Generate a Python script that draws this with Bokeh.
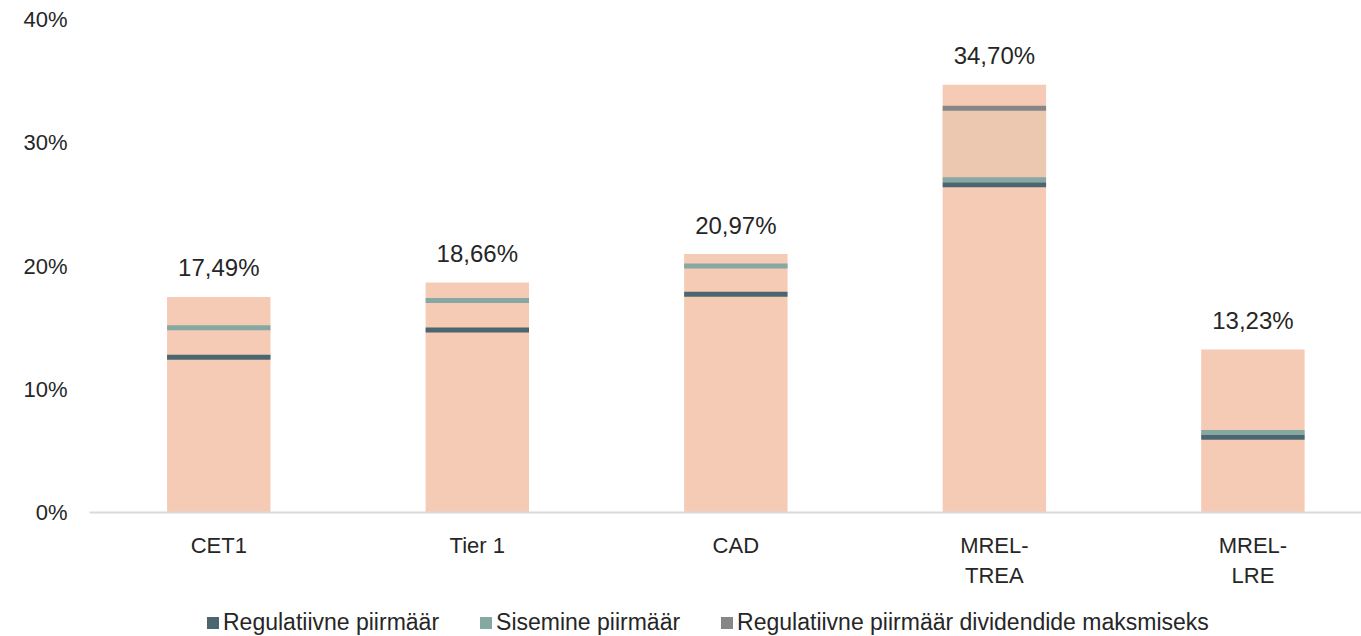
from bokeh.plotting import figure
from bokeh.models import Range1d, FixedTicker, Legend, LegendItem, ColumnDataSource
from bokeh.layouts import column
from bokeh.embed import file_html
from bokeh.resources import INLINE
from bokeh.core.properties import value

categories = ["CET1", "Tier 1", "CAD", "MREL-\nTREA", "MREL-\nLRE"]
capital = [17.49, 18.66, 20.97, 34.70, 13.23]
capital_labels = ["17,49%", "18,66%", "20,97%", "34,70%", "13,23%"]
regulatory = [12.6, 14.8, 17.7, 26.6, 6.1]
internal = [15.0, 17.2, 20.0, 27.0, 6.5]
dividend_idx = [3]
dividend = [32.8]
y_ticks = [0, 10, 20, 30, 40]
legend_labels = ["Regulatiivne piirmäär", "Sisemine piirmäär",
                 "Regulatiivne piirmäär dividendide maksmiseks"]

FONT = "Liberation Sans"
TXT = "#262626"
C_BAR = "#F5CBB5"
C_ZONE = "#ECC8B0"
C_REG = "#4A6670"
C_INT = "#85A9A2"
C_DIV = "#878787"

x = list(range(len(categories)))

p = figure(width=1361, height=596, output_backend="svg", toolbar_location=None,
           x_range=Range1d(-0.5, 4.42), y_range=Range1d(0, 40),
           min_border_left=89, min_border_right=0, min_border_top=19, min_border_bottom=84)
p.outline_line_color = None
p.xgrid.visible = False
p.ygrid.visible = False

src = ColumnDataSource(dict(x=x, top=capital, lab=capital_labels))
p.vbar(x="x", top="top", bottom=0, width=0.4, source=src, fill_color=C_BAR, line_color=None)

# darker zone between internal requirement and dividend threshold
p.vbar(x=dividend_idx, bottom=[internal[i] for i in dividend_idx], top=dividend, width=0.4,
       fill_color=C_ZONE, line_color=None)

p.rect(x=x, y=regulatory, width=0.4, height=5, height_units="screen",
       fill_color=C_REG, line_color=None)
p.rect(x=x, y=internal, width=0.4, height=5, height_units="screen",
       fill_color=C_INT, line_color=None)
p.rect(x=dividend_idx, y=dividend, width=0.4, height=5, height_units="screen",
       fill_color=C_DIV, line_color=None)

p.text(x="x", y="top", text="lab", source=src, y_offset=-29, text_align="center",
       text_baseline="alphabetic", text_font=value(FONT), text_font_size="24px", text_color=TXT)

# axes
p.yaxis.ticker = FixedTicker(ticks=y_ticks)
p.yaxis.major_label_overrides = {t: f"{t}%" for t in y_ticks}
p.yaxis.axis_line_color = None
p.yaxis.major_tick_line_color = None
p.yaxis.minor_tick_line_color = None
p.yaxis.major_label_text_font = FONT
p.yaxis.major_label_text_font_size = "22px"
p.yaxis.major_label_text_color = TXT
p.yaxis.major_label_standoff = 16

p.xaxis.ticker = FixedTicker(ticks=x)
p.xaxis.major_label_overrides = {i: c for i, c in zip(x, categories)}
p.xaxis.axis_line_color = "#D9D9D9"
p.xaxis.axis_line_width = 2
p.xaxis.major_tick_line_color = None
p.xaxis.minor_tick_line_color = None
p.xaxis.major_label_text_font = FONT
p.xaxis.major_label_text_font_size = "22px"
p.xaxis.major_label_text_color = TXT
p.xaxis.major_label_standoff = 14

# legend strip (frame aligned with the main plot's frame)
lg = figure(width=1361, height=40, output_backend="svg", toolbar_location=None,
            x_range=Range1d(0, 1), y_range=Range1d(0, 1),
            x_axis_location=None, y_axis_location=None, min_border=0)
lg.outline_line_color = None
lg.xgrid.visible = False
lg.ygrid.visible = False
items = []
for lab, col in zip(legend_labels, [C_REG, C_INT, C_DIV]):
    r = lg.rect(x=[float("nan")], y=[float("nan")], width=1, height=1,
                fill_color=col, line_color=None)
    items.append(LegendItem(label=lab, renderers=[r]))
legend = Legend(items=items, orientation="horizontal", location=(116, 0))
legend.glyph_width = 15
legend.glyph_height = 15
legend.label_standoff = 3
legend.spacing = 39
legend.padding = 0
legend.margin = 0
legend.border_line_color = None
legend.background_fill_alpha = 0
legend.label_text_font = FONT
legend.label_text_font_size = "23px"
legend.label_text_color = TXT
lg.add_layout(legend, "center")

layout = column(p, lg)
open("out.html", "w").write(file_html(layout, INLINE))
